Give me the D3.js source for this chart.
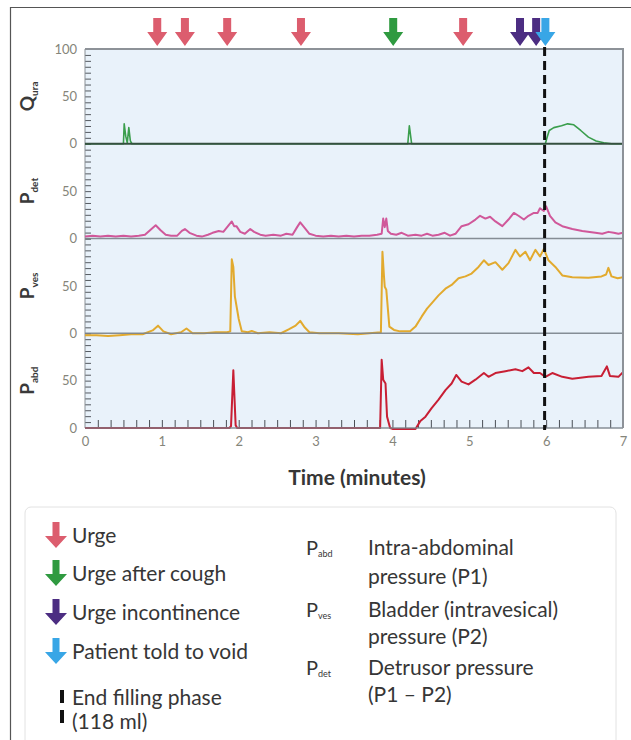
<!DOCTYPE html>
<html>
<head>
<meta charset="utf-8">
<script src="https://cdn.jsdelivr.net/npm/d3@7"></script>
<style>
  body { margin: 0; background: #fff; }
  svg { display: block; font-family: Lato, "Open Sans", sans-serif; }
</style>
</head>
<body>
<svg id="chart" width="631" height="740"></svg>
<script>
// panel labels (top to bottom)
const panelLabels = ["Q", "P", "P", "P"];
const panelSubs = ["ura", "det", "ves", "abd"];
const timeTicks = [0, 1, 2, 3, 4, 5, 6, 7];

// traces: [time (min), value]
const qura = [[0,0],[0.5,0],[0.51,21],[0.53,8],[0.55,1],[0.57,17],[0.59,3],[0.61,0],[4.2,0],[4.22,19],[4.25,0],
  [5.99,0],[6.01,6],[6.04,14],[6.1,17],[6.2,19],[6.28,21],[6.36,20],[6.45,14],[6.55,7],[6.65,3],[6.75,1],[6.85,0],[7,0]];

const pdet = [[0,2],[0.1,3],[0.2,2],[0.3,3],[0.4,2],[0.5,3],[0.6,2],[0.7,3],[0.78,4],[0.85,9],[0.92,14],[0.98,9],
  [1.05,4],[1.12,3],[1.2,3],[1.26,8],[1.3,10],[1.36,6],[1.45,3],[1.52,2],[1.6,4],[1.66,6],[1.74,8],[1.8,7],[1.86,13],
  [1.91,18],[1.94,13],[1.97,13],[2.02,7],[2.08,5],[2.15,10],[2.2,7],[2.28,4],[2.35,3],[2.45,4],[2.55,3],[2.62,5],
  [2.7,4],[2.76,12],[2.8,17],[2.85,12],[2.92,5],[3.0,3],[3.1,2],[3.2,3],[3.3,2],[3.4,3],[3.5,2],[3.6,3],[3.7,3],
  [3.8,4],[3.86,5],[3.88,21],[3.9,12],[3.92,21],[3.94,8],[3.98,5],[4.05,4],[4.12,6],[4.2,3],[4.3,4],[4.38,3],
  [4.45,5],[4.52,3],[4.6,4],[4.68,6],[4.75,3],[4.82,5],[4.9,13],[4.99,15],[5.08,20],[5.14,24],[5.21,21],[5.27,23],
  [5.34,18],[5.43,13],[5.51,20],[5.58,27],[5.64,24],[5.71,20],[5.77,24],[5.84,27],[5.89,27],[5.92,32],[5.97,29],
  [6.0,34],[6.05,24],[6.12,17],[6.21,13],[6.34,10],[6.47,8],[6.64,6],[6.73,5],[6.81,7],[6.88,6],[6.94,5],[7.0,6]];

const pves = [[0,-2],[0.15,-2],[0.3,-3],[0.45,-2],[0.6,-1],[0.75,-1],[0.88,3],[0.95,8],[1.02,2],[1.12,-1],[1.25,1],
  [1.32,5],[1.4,0],[1.55,0],[1.7,1],[1.85,1],[1.89,2],[1.91,78],[1.93,70],[1.95,39],[2.0,15],[2.04,2],[2.12,1],
  [2.17,2.5],[2.25,0],[2.4,1],[2.55,0],[2.65,4],[2.74,8],[2.8,13],[2.86,6],[2.92,1],[3.05,0],[3.3,0],[3.55,-1],
  [3.7,0],[3.85,1],[3.87,86],[3.89,60],[3.9,49],[3.92,46],[3.96,7],[4.02,3.5],[4.1,2],[4.23,2],[4.3,7],[4.38,17.5],
  [4.45,26],[4.51,31.5],[4.6,40],[4.69,47],[4.77,51],[4.86,58],[4.95,60],[5.03,63],[5.12,70],[5.19,77],[5.25,72],
  [5.34,75],[5.43,67],[5.51,74],[5.6,88],[5.66,81],[5.73,86],[5.79,77],[5.86,88],[5.92,81],[5.97,89],[6.03,77],
  [6.12,70],[6.21,61],[6.34,59],[6.55,58.6],[6.72,60],[6.78,62],[6.81,69],[6.85,60],[6.93,58],[7.0,59]];

const pabd = [[0,0],[1.88,0],[1.9,2],[1.93,61],[1.96,3],[1.98,0],[3.84,0],[3.86,72],[3.88,51],[3.91,47],[3.93,12],
  [3.97,0],[4.0,-1],[4.3,-1],[4.36,7],[4.43,12],[4.51,21],[4.6,30],[4.69,40],[4.77,47],[4.83,56],[4.9,49],
  [4.99,46],[5.08,51],[5.19,58],[5.25,54],[5.34,58],[5.47,60],[5.6,62],[5.69,60],[5.77,64],[5.84,58],[5.92,58],
  [5.99,54],[6.08,58],[6.21,54],[6.34,52],[6.55,54],[6.72,55],[6.79,65],[6.83,55],[6.94,54],[7.0,59]];

const panelData = [qura, pdet, pves, pabd];
const panelColors = ["#3a9e4c", "#d0589a", "#e2aa2e", "#c81f34"];

// event markers (minutes)
const urgeTimes = [0.94, 1.30, 1.85, 2.81, 4.92];
const coughTimes = [4.01];
const incontTimes = [5.66, 5.87];
const voidTimes = [5.99];
const endFillTime = 5.98;

const legendLeft = ["Urge", "Urge after cough", "Urge incontinence", "Patient told to void"];
const legendLeftColors = ["#dc5d6e", "#2f9a40", "#4c2d82", "#38a6e6"];
const legendRight = [["abd", "Intra-abdominal", "pressure (P1)"], ["ves", "Bladder (intravesical)", "pressure (P2)"],
  ["det", "Detrusor pressure", "(P1 \u2013 P2)"]];

const svg = d3.select("#chart");
const plotTop = 49, panelH = 94.75;
const x = d3.scaleLinear().domain([0, 7]).range([85, 623]);
const yScales = panelSubs.map((s, i) => d3.scaleLinear().domain([0, 100])
  .range([plotTop + panelH * (i + 1), plotTop + panelH * i]));
const plotBottom = plotTop + panelH * 4;
const textCol = "#363636";

// outer frame
svg.append("path").attr("d", "M10.5,740V7.5H631").attr("fill", "none").attr("stroke", "#555").attr("stroke-width", 1.2);

// plot background
svg.append("rect").attr("x", x(0)).attr("y", plotTop).attr("width", x(7) - x(0)).attr("height", plotBottom - plotTop)
  .attr("fill", "#e9f2fa");

// y minor ticks + labels per panel
yScales.forEach((y, i) => {
  const ticks = svg.append("g").attr("transform", `translate(${x(0)},0)`)
    .call(d3.axisRight(y).tickValues(d3.range(0, 100.1, 6.25)).tickSize(6).tickFormat(""));
  ticks.select(".domain").remove();
  ticks.selectAll("line").attr("stroke", "#555a60");

  const labs = svg.append("g").attr("transform", `translate(${x(0) - 5},0)`)
    .call(d3.axisLeft(y).tickValues(i === 0 ? [0, 50, 100] : [0, 50]).tickSize(0).tickPadding(3));
  labs.select(".domain").remove();
  labs.selectAll("text").attr("fill", "#85857a").style("font-size", "13px").style("font-family", "Lato, sans-serif");

  // panel label
  const lab = svg.append("text")
    .attr("transform", `translate(34,${y(50)}) rotate(-90)`)
    .attr("text-anchor", "middle")
    .attr("fill", "#3a3a3a")
    .style("font-weight", "700");
  lab.append("tspan").text(panelLabels[i]).style("font-size", "19px");
  lab.append("tspan").text(panelSubs[i]).attr("dy", 4).style("font-size", "10px");
});

// left axis line
svg.append("line").attr("x1", x(0)).attr("x2", x(0)).attr("y1", plotTop).attr("y2", plotBottom)
  .attr("stroke", "#8a9096").attr("stroke-width", 1);

// x minor ticks
const xt = svg.append("g").attr("transform", `translate(0,${plotBottom})`)
  .call(d3.axisTop(x).tickValues(d3.range(1, 42).map(k => k / 6)).tickSize(8).tickFormat(""));
xt.select(".domain").remove();
xt.selectAll("line").attr("stroke", "#4a4f55");

const xl = svg.append("g").attr("transform", `translate(0,${plotBottom})`)
  .call(d3.axisBottom(x).tickValues(timeTicks).tickSize(0).tickPadding(9).tickFormat(d3.format("d")));
xl.select(".domain").remove();
xl.selectAll("text").attr("fill", "#85857a").style("font-size", "13px").style("font-family", "Lato, sans-serif");

svg.append("text").attr("x", 357).attr("y", 485).attr("text-anchor", "middle")
  .attr("fill", textCol).style("font-size", "21px").style("font-weight", "700").text("Time (minutes)");

// traces
yScales.forEach((y, i) => {
  const line = d3.line().x(d => x(d[0])).y(d => y(d[1]));
  svg.append("path").datum(panelData[i]).attr("d", line)
    .attr("fill", "none").attr("stroke", panelColors[i]).attr("stroke-width", i === 0 ? 1.6 : 2)
    .attr("stroke-linejoin", "round");
});

// zero lines and borders
yScales.forEach((y, i) => {
  svg.append("line").attr("x1", x(0)).attr("x2", x(7)).attr("y1", y(0)).attr("y2", y(0))
    .attr("stroke", i === 0 ? "#35503f" : "#7b838b").attr("stroke-width", i === 0 ? 1.8 : 1.5)
    .attr("opacity", i === 0 ? 1 : 0.9);
});
svg.append("line").attr("x1", x(0)).attr("x2", x(7) + 1).attr("y1", plotTop).attr("y2", plotTop)
  .attr("stroke", "#8d9298").attr("stroke-width", 2);
svg.append("line").attr("x1", x(7)).attr("x2", x(7)).attr("y1", plotTop).attr("y2", plotBottom)
  .attr("stroke", "#8d9298").attr("stroke-width", 2);

// end of filling phase
svg.append("line").attr("x1", x(endFillTime)).attr("x2", x(endFillTime)).attr("y1", 47).attr("y2", plotBottom + 2)
  .attr("stroke", "#111").attr("stroke-width", 3).attr("stroke-dasharray", "9,5");

// arrows
function arrowPath(cx, top, tip, shaftW, headW, headH) {
  return `M${cx - shaftW / 2},${top}H${cx + shaftW / 2}V${tip - headH}H${cx + headW / 2}L${cx},${tip}` +
    `L${cx - headW / 2},${tip - headH}H${cx - shaftW / 2}Z`;
}
const arrowGroups = [[urgeTimes, legendLeftColors[0]], [coughTimes, legendLeftColors[1]],
  [incontTimes, legendLeftColors[2]], [voidTimes, legendLeftColors[3]]];
arrowGroups.forEach(([times, col]) => {
  svg.selectAll(null).data(times).enter().append("path")
    .attr("d", t => arrowPath(x(t), 18, 46, 8, 20, 14))
    .attr("fill", col);
});

// legend
svg.append("rect").attr("x", 25).attr("y", 507).attr("width", 591).attr("height", 250).attr("rx", 6)
  .attr("fill", "#fff").attr("stroke", "#e2e2e2");

const legY = [536, 574, 613, 652];
legendLeft.forEach((txt, i) => {
  svg.append("path").attr("d", arrowPath(56, legY[i] - 14, legY[i] + 12, 7, 22, 12)).attr("fill", legendLeftColors[i]);
  svg.append("text").attr("x", 72).attr("y", legY[i] + 7).attr("fill", textCol)
    .style("font-size", "21px").text(txt);
});
svg.append("line").attr("x1", 62).attr("x2", 62).attr("y1", 690).attr("y2", 724)
  .attr("stroke", "#111").attr("stroke-width", 4).attr("stroke-dasharray", "13,7");
svg.append("text").attr("x", 72).attr("y", 705).attr("fill", textCol).style("font-size", "21px").text("End filling phase");
svg.append("text").attr("x", 72).attr("y", 729).attr("fill", textCol).style("font-size", "21px").text("(118 ml)");

const rightY = [[548, 577], [610, 637], [668, 695]];
legendRight.forEach(([sub, l1, l2], i) => {
  const p = svg.append("text").attr("x", 306).attr("y", rightY[i][0] + 7).attr("fill", textCol);
  p.append("tspan").text("P").style("font-size", "20px");
  p.append("tspan").text(sub).attr("dy", 2).style("font-size", "9px");
  svg.append("text").attr("x", 368).attr("y", rightY[i][0] + 7).attr("fill", textCol).style("font-size", "21px").text(l1);
  svg.append("text").attr("x", 368).attr("y", rightY[i][1] + 7).attr("fill", textCol).style("font-size", "21px").text(l2);
});
</script>
</body>
</html>
